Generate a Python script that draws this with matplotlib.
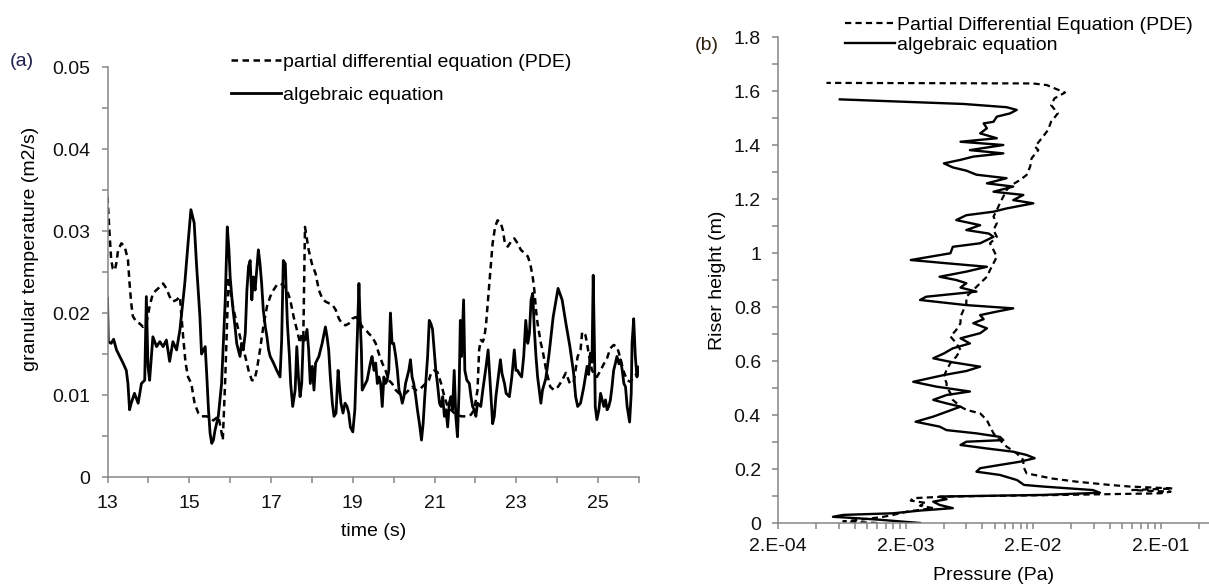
import matplotlib
matplotlib.use("Agg")
import matplotlib.pyplot as plt
from matplotlib.ticker import FixedLocator, FixedFormatter, NullFormatter

plt.rcParams['font.family'] = ['Liberation Sans', 'DejaVu Sans']

# ---------------- panel (a) data ----------------
time_alg = [13.00, 13.02, 13.09, 13.15, 13.22, 13.30, 13.38, 13.46, 13.50, 13.54, 13.58, 13.66, 13.75,
            13.83, 13.91, 13.95, 13.99, 14.03, 14.11, 14.20, 14.28, 14.36, 14.44, 14.52, 14.60, 14.69,
            14.77, 14.89, 14.97, 15.04, 15.12, 15.18, 15.26, 15.30, 15.35, 15.39, 15.43, 15.47, 15.51,
            15.55, 15.59, 15.63, 15.71, 15.79, 15.88, 15.93, 15.97, 16.00, 16.04, 16.08, 16.12, 16.16,
            16.20, 16.24, 16.28, 16.32, 16.37, 16.41, 16.45, 16.49, 16.53, 16.57, 16.61, 16.65, 16.69,
            16.73, 16.77, 16.81, 16.86, 16.90, 16.94, 16.98, 17.06, 17.14, 17.22, 17.26, 17.30, 17.35,
            17.37, 17.40, 17.45, 17.48, 17.53, 17.59, 17.63, 17.67, 17.71, 17.75, 17.79, 17.83, 17.88,
            17.92, 17.96, 18.01, 18.05, 18.09, 18.17, 18.25, 18.33, 18.37, 18.41, 18.45, 18.50, 18.54,
            18.59, 18.64, 18.68, 18.71, 18.76, 18.81, 18.86, 18.90, 18.94, 19.00, 19.05, 19.11, 19.15,
            19.17, 19.21, 19.23, 19.27, 19.35, 19.43, 19.47, 19.52, 19.56, 19.60, 19.64, 19.68, 19.72,
            19.76, 19.80, 19.84, 19.88, 19.92, 19.96, 20.00, 20.05, 20.09, 20.13, 20.17, 20.21, 20.25,
            20.29, 20.37, 20.41, 20.45, 20.49, 20.54, 20.58, 20.63, 20.68, 20.72, 20.76, 20.83, 20.87,
            20.91, 20.95, 20.99, 21.03, 21.07, 21.12, 21.16, 21.20, 21.24, 21.28, 21.32, 21.36, 21.40,
            21.44, 21.48, 21.52, 21.56, 21.60, 21.63, 21.66, 21.71, 21.74, 21.79, 21.85, 21.89, 21.93,
            21.97, 22.01, 22.05, 22.13, 22.18, 22.26, 22.31, 22.36, 22.42, 22.46, 22.50, 22.56, 22.61,
            22.65, 22.71, 22.75, 22.83, 22.89, 22.95, 22.99, 23.03, 23.07, 23.13, 23.18, 23.23, 23.28,
            23.32, 23.36, 23.40, 23.44, 23.48, 23.52, 23.56, 23.60, 23.64, 23.72, 23.80, 23.90, 24.02,
            24.12, 24.21, 24.31, 24.40, 24.45, 24.50, 24.57, 24.65, 24.73, 24.77, 24.81, 24.85, 24.88,
            24.91, 24.93, 24.97, 25.02, 25.06, 25.10, 25.14, 25.18, 25.22, 25.26, 25.30, 25.34, 25.38,
            25.42, 25.46, 25.51, 25.55, 25.59, 25.63, 25.67, 25.71, 25.77, 25.81, 25.83, 25.87, 25.91,
            25.95, 25.99]
temp_alg = [0.0218, 0.0165, 0.0163, 0.0168, 0.0155, 0.0147, 0.0139, 0.0130, 0.0114, 0.0082, 0.0090, 0.0102,
            0.0090, 0.0114, 0.0118, 0.0220, 0.0135, 0.0118, 0.0171, 0.0159, 0.0165, 0.0159, 0.0167, 0.0141,
            0.0165, 0.0155, 0.0179, 0.0236, 0.0285, 0.0326, 0.0310, 0.0257, 0.0196, 0.0150, 0.0155, 0.0159,
            0.0122, 0.0082, 0.0053, 0.0041, 0.0045, 0.0057, 0.0074, 0.0114, 0.0216, 0.0305, 0.0277, 0.0244,
            0.0220, 0.0200, 0.0183, 0.0163, 0.0155, 0.0147, 0.0163, 0.0155, 0.0175, 0.0228, 0.0257, 0.0264,
            0.0216, 0.0244, 0.0228, 0.0252, 0.0277, 0.0260, 0.0236, 0.0204, 0.0183, 0.0171, 0.0155, 0.0147,
            0.0139, 0.0130, 0.0122, 0.0167, 0.0264, 0.0260, 0.0228, 0.0187, 0.0147, 0.0114, 0.0086, 0.0106,
            0.0159, 0.0122, 0.0098, 0.0114, 0.0171, 0.0167, 0.0180, 0.0155, 0.0114, 0.0135, 0.0106, 0.0139,
            0.0147, 0.0163, 0.0183, 0.0171, 0.0155, 0.0122, 0.0090, 0.0074, 0.0078, 0.0130, 0.0106, 0.0090,
            0.0078, 0.0090, 0.0086, 0.0078, 0.0061, 0.0055, 0.0082, 0.0171, 0.0236, 0.0204, 0.0155, 0.0106,
            0.0110, 0.0118, 0.0139, 0.0147, 0.0130, 0.0139, 0.0114, 0.0122, 0.0114, 0.0086, 0.0122, 0.0114,
            0.0118, 0.0130, 0.0200, 0.0163, 0.0163, 0.0147, 0.0130, 0.0106, 0.0100, 0.0090, 0.0098, 0.0114,
            0.0130, 0.0143, 0.0122, 0.0114, 0.0098, 0.0082, 0.0065, 0.0045, 0.0065, 0.0098, 0.0147, 0.0191,
            0.0187, 0.0180, 0.0155, 0.0130, 0.0114, 0.0090, 0.0086, 0.0098, 0.0074, 0.0082, 0.0061, 0.0090,
            0.0098, 0.0082, 0.0130, 0.0074, 0.0049, 0.0106, 0.0191, 0.0147, 0.0216, 0.0130, 0.0118, 0.0114,
            0.0098, 0.0086, 0.0082, 0.0074, 0.0090, 0.0086, 0.0106, 0.0135, 0.0155, 0.0114, 0.0065, 0.0074,
            0.0098, 0.0122, 0.0143, 0.0126, 0.0114, 0.0102, 0.0098, 0.0122, 0.0155, 0.0130, 0.0130, 0.0126,
            0.0122, 0.0147, 0.0191, 0.0163, 0.0175, 0.0216, 0.0224, 0.0180, 0.0147, 0.0122, 0.0106, 0.0090,
            0.0106, 0.0120, 0.0150, 0.0195, 0.0230, 0.0216, 0.0188, 0.0159, 0.0127, 0.0098, 0.0086, 0.0090,
            0.0110, 0.0135, 0.0125, 0.0151, 0.0140, 0.0246, 0.0160, 0.0086, 0.0070, 0.0082, 0.0102, 0.0094,
            0.0086, 0.0094, 0.0082, 0.0086, 0.0094, 0.0110, 0.0130, 0.0138, 0.0147, 0.0138, 0.0143, 0.0130,
            0.0114, 0.0110, 0.0086, 0.0067, 0.0102, 0.0163, 0.0193, 0.0147, 0.0122, 0.0134]

time_pde = [13.00, 13.05, 13.09, 13.13, 13.18, 13.22, 13.26, 13.34, 13.42, 13.50, 13.54, 13.58, 13.62,
            13.71, 13.79, 13.87, 13.95, 14.03, 14.11, 14.24, 14.36, 14.44, 14.52, 14.60, 14.69, 14.77,
            14.85, 14.91, 14.97, 15.05, 15.13, 15.22, 15.30, 15.43, 15.59, 15.71, 15.77, 15.82, 15.88,
            15.96, 16.04, 16.12, 16.20, 16.28, 16.37, 16.45, 16.53, 16.59, 16.65, 16.73, 16.81, 16.90,
            16.98, 17.06, 17.14, 17.22, 17.30, 17.39, 17.47, 17.55, 17.63, 17.71, 17.75, 17.79, 17.83,
            17.92, 18.00, 18.09, 18.17, 18.25, 18.33, 18.41, 18.50, 18.58, 18.66, 18.74, 18.82, 18.90,
            18.98, 19.07, 19.15, 19.23, 19.31, 19.39, 19.47, 19.56, 19.64, 19.72, 19.80, 19.88, 19.96,
            20.05, 20.13, 20.21, 20.29, 20.37, 20.45, 20.54, 20.62, 20.70, 20.78, 20.86, 20.91, 20.99,
            21.07, 21.16, 21.24, 21.32, 21.40, 21.48, 21.56, 21.65, 21.73, 21.81, 21.89, 21.97, 22.05,
            22.09, 22.13, 22.18, 22.22, 22.26, 22.30, 22.34, 22.38, 22.42, 22.48, 22.54, 22.61, 22.67,
            22.72, 22.79, 22.87, 22.95, 23.03, 23.11, 23.20, 23.28, 23.34, 23.40, 23.44, 23.48, 23.52,
            23.56, 23.60, 23.64, 23.73, 23.83, 23.92, 24.02, 24.12, 24.21, 24.31, 24.40, 24.50, 24.57,
            24.61, 24.69, 24.73, 24.77, 24.85, 24.97, 25.06, 25.14, 25.22, 25.30, 25.38, 25.46, 25.51,
            25.55, 25.63, 25.71, 25.79, 25.87, 25.95, 26.00]
temp_pde = [0.0342, 0.0297, 0.0265, 0.0254, 0.0252, 0.0262, 0.0277, 0.0285, 0.0281, 0.0265, 0.0236, 0.0212,
            0.0196, 0.0189, 0.0187, 0.0183, 0.0187, 0.0208, 0.0224, 0.0230, 0.0236, 0.0230, 0.0220, 0.0214,
            0.0216, 0.0220, 0.0171, 0.0139, 0.0122, 0.0114, 0.0090, 0.0078, 0.0074, 0.0074, 0.0069, 0.0074,
            0.0060, 0.0045, 0.0120, 0.0244, 0.0215, 0.0196, 0.0180, 0.0163, 0.0147, 0.0130, 0.0118, 0.0118,
            0.0130, 0.0155, 0.0183, 0.0208, 0.0220, 0.0228, 0.0234, 0.0236, 0.0234, 0.0228, 0.0216, 0.0196,
            0.0180, 0.0163, 0.0175, 0.0171, 0.0305, 0.0277, 0.0260, 0.0248, 0.0228, 0.0218, 0.0214, 0.0212,
            0.0210, 0.0204, 0.0193, 0.0187, 0.0185, 0.0187, 0.0193, 0.0195, 0.0191, 0.0183, 0.0180, 0.0175,
            0.0171, 0.0163, 0.0150, 0.0139, 0.0130, 0.0118, 0.0114, 0.0106, 0.0102, 0.0100, 0.0102, 0.0106,
            0.0110, 0.0106, 0.0106, 0.0110, 0.0114, 0.0118, 0.0126, 0.0130, 0.0128, 0.0114, 0.0098, 0.0086,
            0.0082, 0.0078, 0.0076, 0.0074, 0.0074, 0.0074, 0.0076, 0.0082, 0.0106, 0.0155, 0.0167, 0.0165,
            0.0171, 0.0187, 0.0212, 0.0236, 0.0261, 0.0285, 0.0305, 0.0313, 0.0311, 0.0301, 0.0285, 0.0281,
            0.0287, 0.0291, 0.0285, 0.0277, 0.0273, 0.0269, 0.0260, 0.0244, 0.0228, 0.0204, 0.0187, 0.0175,
            0.0163, 0.0155, 0.0130, 0.0110, 0.0106, 0.0110, 0.0118, 0.0127, 0.0114, 0.0115, 0.0147, 0.0155,
            0.0177, 0.0173, 0.0163, 0.0150, 0.0130, 0.0122, 0.0130, 0.0138, 0.0145, 0.0157, 0.0161, 0.0159,
            0.0151, 0.0143, 0.0128, 0.0118, 0.0116, 0.0122, 0.0126, 0.0135]

# ---------------- panel (b) data ----------------
height_alg = [0.000, 0.006, 0.012, 0.017, 0.023, 0.030, 0.036, 0.046, 0.055, 0.067, 0.079, 0.088, 0.098,
              0.104, 0.112, 0.122, 0.135, 0.141, 0.159, 0.178, 0.190, 0.203, 0.215, 0.227, 0.240, 0.252,
              0.264, 0.276, 0.289, 0.301, 0.307, 0.319, 0.332, 0.344, 0.357, 0.375, 0.394, 0.412, 0.431,
              0.443, 0.456, 0.474, 0.487, 0.505, 0.523, 0.548, 0.563, 0.579, 0.595, 0.610, 0.628, 0.647,
              0.665, 0.684, 0.703, 0.721, 0.740, 0.755, 0.770, 0.783, 0.795, 0.807, 0.826, 0.838, 0.857,
              0.872, 0.888, 0.900, 0.912, 0.931, 0.949, 0.962, 0.974, 0.999, 1.023, 1.036, 1.060, 1.072,
              1.085, 1.103, 1.122, 1.140, 1.153, 1.165, 1.184, 1.196, 1.215, 1.227, 1.246, 1.258, 1.277,
              1.290, 1.305, 1.317, 1.332, 1.345, 1.357, 1.369, 1.381, 1.400, 1.412, 1.425, 1.443, 1.462,
              1.480, 1.486, 1.505, 1.517, 1.530, 1.540, 1.552, 1.569]
pressure_alg = [2.6e-3, 1.8e-3, 1.26e-3, 8.8e-4, 5.4e-4, 6.5e-4, 1.6e-3, 2.6e-3, 4.7e-3, 3.7e-3, 3.3e-3,
                4.2e-3, 3.7e-3, 0.024, 0.067, 0.059, 0.024, 0.017, 0.015, 0.011, 0.0072, 0.0077, 0.011,
                0.0158, 0.0206, 0.0178, 0.014, 0.0087, 0.0054, 0.006, 0.0117, 0.011, 0.0072, 0.0042, 0.0037,
                0.0024, 0.0033, 0.0042, 0.0054, 0.0042, 0.0033, 0.0042, 0.0064, 0.0035, 0.0023, 0.0040,
                0.0060, 0.0077, 0.0047, 0.0033, 0.0040, 0.0047, 0.0064, 0.0054, 0.0077, 0.0087, 0.0068,
                0.0082, 0.0077, 0.0104, 0.0140, 0.0060, 0.0026, 0.0029, 0.0072, 0.0054, 0.0060, 0.0050,
                0.0037, 0.0060, 0.0087, 0.0042, 0.0022, 0.0045, 0.0047, 0.0077, 0.0098, 0.0090, 0.0060,
                0.0077, 0.0050, 0.0060, 0.0098, 0.0124, 0.0201, 0.0140, 0.0168, 0.0098, 0.0140, 0.0087,
                0.0124, 0.0072, 0.0060, 0.0047, 0.0040, 0.0054, 0.0068, 0.0117, 0.0064, 0.0117, 0.0054,
                0.0104, 0.0077, 0.0087, 0.0082, 0.0098, 0.0104, 0.0132, 0.0149, 0.0124, 0.0057, 0.00061]

height_pde = [0.000, 0.006, 0.012, 0.023, 0.030, 0.043, 0.055, 0.064, 0.074, 0.083, 0.092, 0.098, 0.104,
              0.110, 0.116, 0.122, 0.128, 0.135, 0.141, 0.153, 0.165, 0.184, 0.209, 0.233, 0.258, 0.283,
              0.307, 0.332, 0.357, 0.381, 0.406, 0.419, 0.431, 0.456, 0.481, 0.505, 0.518, 0.542, 0.567,
              0.592, 0.616, 0.641, 0.666, 0.691, 0.715, 0.740, 0.764, 0.789, 0.813, 0.838, 0.863, 0.888,
              0.912, 0.937, 0.962, 0.986, 1.011, 1.036, 1.060, 1.085, 1.110, 1.135, 1.159, 1.184, 1.209,
              1.233, 1.252, 1.270, 1.289, 1.320, 1.351, 1.381, 1.394, 1.425, 1.455, 1.486, 1.517, 1.548,
              1.573, 1.594, 1.610, 1.622, 1.628, 1.630]
pressure_pde = [1.2e-3, 6.5e-4, 8.8e-4, 1.34e-3, 1.6e-3, 2.1e-3, 3.3e-3, 2.6e-3, 2.9e-3, 2.2e-3, 2.3e-3,
                4.2e-3, 0.035, 0.20, 0.24, 0.12, 0.25, 0.115, 0.080, 0.044, 0.028, 0.0178, 0.0168, 0.0168,
                0.0149, 0.0124, 0.0110, 0.0098, 0.0092, 0.0087, 0.0077, 0.0060, 0.0054, 0.0047, 0.0045,
                0.0042, 0.0042, 0.0040, 0.0042, 0.0045, 0.0050, 0.0054, 0.0050, 0.0045, 0.0050, 0.0054,
                0.0054, 0.0057, 0.0060, 0.0060, 0.0068, 0.0077, 0.0087, 0.0092, 0.0098, 0.0104, 0.0098,
                0.0092, 0.0104, 0.0098, 0.0104, 0.0098, 0.0104, 0.0110, 0.0117, 0.0124, 0.0136, 0.0158,
                0.0178, 0.0190, 0.0195, 0.0220, 0.0207, 0.0234, 0.0262, 0.0277, 0.0313, 0.0277, 0.0295,
                0.0356, 0.0295, 0.0256, 0.0200, 0.00048]

a_ticks = [13, 15, 17, 19, 21, 23, 25]
a_yticks = [0, 0.01, 0.02, 0.03, 0.04, 0.05]
a_ylabels = ['0', '0.01', '0.02', '0.03', '0.04', '0.05']
b_yticks = [0, 0.2, 0.4, 0.6, 0.8, 1.0, 1.2, 1.4, 1.6, 1.8]
b_ylabels = ['0', '0.2', '0.4', '0.6', '0.8', '1', '1.2', '1.4', '1.6', '1.8']
b_xticks = [2e-4, 2e-3, 2e-2, 2e-1]
b_xlabels = ['2.E-04', '2.E-03', '2.E-02', '2.E-01']

W, H = 1209, 585
fig = plt.figure(figsize=(W / 100, H / 100), dpi=100)
GRAY = '#868686'
FS = 14


def px_axes(x0, x1, ytop, ybot):
    return fig.add_axes([x0 / W, 1 - ybot / H, (x1 - x0) / W, (ybot - ytop) / H])


def style(ax, xpad):
    for s in ['top', 'right']:
        ax.spines[s].set_visible(False)
    for s in ['left', 'bottom']:
        ax.spines[s].set_color(GRAY)
        ax.spines[s].set_linewidth(1.1)
    ax.tick_params(which='both', direction='out', length=4.3, width=1.1, color=GRAY,
                   labelsize=FS, labelcolor='#111111')
    ax.tick_params(axis='y', which='both', pad=8)
    ax.tick_params(axis='x', which='both', pad=xpad)


# ---- panel (a)
ax1 = px_axes(107.5, 639, 67, 477)
style(ax1, 8.5)
ax1.plot(time_pde, temp_pde, color='black', lw=1.8, dashes=(2.6, 1.8), label='partial differential equation (PDE)')
ax1.plot(time_alg, temp_alg, color='black', lw=2.0, label='algebraic equation')
ax1.set_xlim(13, 26)
ax1.set_ylim(0, 0.05)
ax1.xaxis.set_major_locator(FixedLocator(a_ticks))
ax1.xaxis.set_major_formatter(FixedFormatter([str(t) for t in a_ticks]))
ax1.xaxis.set_minor_locator(FixedLocator([14, 16, 18, 20, 22, 24, 26]))
ax1.yaxis.set_major_locator(FixedLocator(a_yticks))
ax1.yaxis.set_major_formatter(FixedFormatter(a_ylabels))
ax1.yaxis.set_minor_locator(FixedLocator([0.005, 0.015, 0.025, 0.035, 0.045]))
ax1.set_xlabel('time (s)', fontsize=FS, va='center')
ax1.xaxis.set_label_coords(0.5, (477 - 531) / 410)
ax1.set_ylabel('granular temperature (m2/s)', fontsize=FS, va='center', ha='center')
ax1.yaxis.set_label_coords((30 - 107.5) / 531.5, (477 - 248.5) / 410)
ax1.legend(loc='upper left', bbox_to_anchor=(231 / W, 1 - 53 / H), bbox_transform=fig.transFigure,
           frameon=False, fontsize=FS, handlelength=2.55, handletextpad=0.1, borderpad=0,
           borderaxespad=0, labelspacing=0.8)
fig.text(22 / W, 1 - 62 / H, '(a)', fontsize=FS, ha='center', va='center', color='#202050')

# ---- panel (b)
ax2 = px_axes(778, 1209, 37, 523)
style(ax2, 6.5)
ax2.plot(pressure_pde, height_pde, color='black', lw=1.6, dashes=(2.8, 1.9), label='Partial Differential Equation (PDE)')
ax2.plot(pressure_alg, height_alg, color='black', lw=1.7, label='algebraic equation')
ax2.set_xscale('log')
ax2.set_xlim(2e-4, 0.48)
ax2.set_ylim(0, 1.8)
ax2.xaxis.set_major_locator(FixedLocator(b_xticks))
ax2.xaxis.set_major_formatter(FixedFormatter(b_xlabels))
minor = []
for dec in [2e-4, 2e-3, 2e-2, 2e-1]:
    for k in range(2, 10):
        v = dec * k
        if v < 0.48:
            minor.append(v)
ax2.xaxis.set_minor_locator(FixedLocator(minor))
ax2.xaxis.set_minor_formatter(NullFormatter())
ax2.yaxis.set_major_locator(FixedLocator(b_yticks))
ax2.yaxis.set_major_formatter(FixedFormatter(b_ylabels))
ax2.yaxis.set_minor_locator(FixedLocator([0.1, 0.3, 0.5, 0.7, 0.9, 1.1, 1.3, 1.5, 1.7]))
ax2.set_xlabel('Pressure (Pa)', fontsize=FS, va='center')
ax2.xaxis.set_label_coords(0.5, (523 - 575) / 486)
ax2.set_ylabel('Riser height (m)', fontsize=FS, va='center', ha='center')
ax2.yaxis.set_label_coords((717 - 778) / 431, (523 - 280) / 486)
ax2.legend(loc='upper left', bbox_to_anchor=(845 / W, 1 - 16 / H), bbox_transform=fig.transFigure,
           frameon=False, fontsize=FS, handlelength=2.55, handletextpad=0.1, borderpad=0,
           borderaxespad=0, labelspacing=0.12)
fig.text(707 / W, 1 - 45 / H, '(b)', fontsize=FS, ha='center', va='center', color='#302010')

fig.savefig('out.png', dpi=100)
